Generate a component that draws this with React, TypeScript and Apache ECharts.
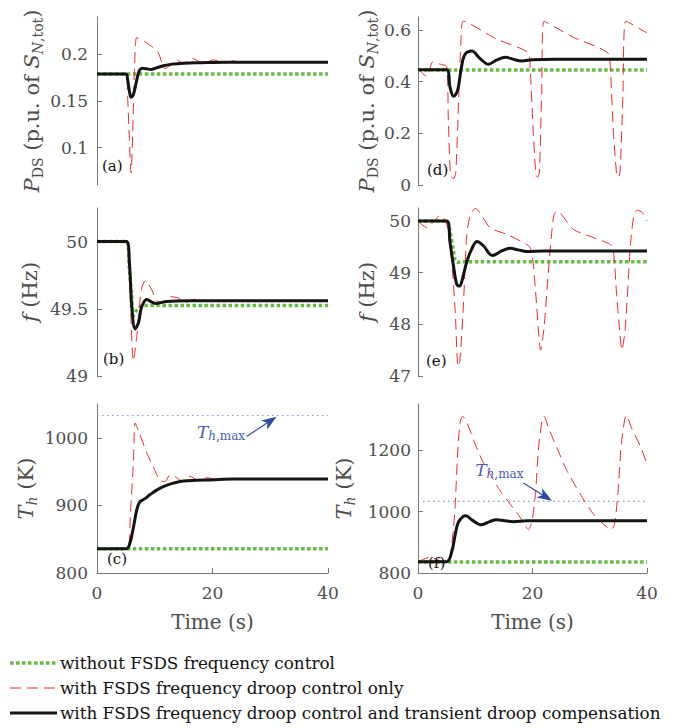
import React, { useEffect, useRef } from 'react';
import * as echarts from 'echarts';

const SERIF = 'DejaVu Serif';
const GRAY = '#4d4d4d';
const AXIS_GRAY = '#777777';
const GREEN = '#66bb44';
const RED = '#f02828';
const BLACK = '#141414';
const TH_BLUE = '#8797d6';
const ANN_BLUE = '#4a5cb0';
const ARROW_BLUE = '#2f4aa0';

const NAME_GREEN = 'without FSDS frequency control';
const NAME_RED = 'with FSDS frequency droop control only';
const NAME_BLACK = 'with FSDS frequency droop control and transient droop compensation';
const LEGEND_NAMES = [NAME_GREEN, NAME_RED, NAME_BLACK];

const timeTicks = [0, 20, 40];
const TH_MAX = 1033;

// ---- (a) P_DS, case 1 ----
const aTicks = [0.1, 0.15, 0.2];
const aGreen = [[0, 0.179], [40, 0.179]];
const aRed = [[0, 0.179], [5.0, 0.179], [5.3, 0.155], [5.6, 0.11], [5.9, 0.073], [6.2, 0.12], [6.5, 0.185], [6.9, 0.218], [8.2, 0.214], [9.3, 0.209], [10.5, 0.203], [11.2, 0.192], [11.8, 0.1848], [12.8, 0.189], [13.8, 0.194], [15.0, 0.1905], [16.6, 0.1955], [18.4, 0.19], [20.2, 0.194], [22.0, 0.1905], [23.8, 0.1932], [25.6, 0.191], [27.3, 0.1925], [29.5, 0.1915], [40, 0.1915]];
const aBlack = [[0, 0.179], [5.0, 0.179], [5.3, 0.173], [5.6, 0.161], [5.9, 0.154], [6.3, 0.157], [6.8, 0.17], [7.3, 0.182], [7.9, 0.185], [8.6, 0.1845], [9.3, 0.1838], [10.3, 0.1855], [11.5, 0.1878], [13, 0.1895], [15, 0.1905], [18, 0.191], [22, 0.1915], [40, 0.1915]];

// ---- (b) f, case 1 ----
const bTicks = [49, 49.5, 50];
const bGreen = [[0, 50], [5.1, 50], [5.6, 49.8], [6.0, 49.6], [6.3, 49.45], [6.9, 49.49], [8.0, 49.525], [40, 49.525]];
const bRed = [[0, 50], [5.2, 50], [5.7, 49.63], [6.3, 49.11], [6.9, 49.3], [7.7, 49.65], [8.4, 49.71], [9.5, 49.64], [10.3, 49.56], [11.5, 49.55], [12.7, 49.59], [14.1, 49.58], [15.3, 49.545], [16.7, 49.57], [19.0, 49.56], [40, 49.56]];
const bBlack = [[0, 50], [5.1, 50], [5.6, 49.85], [6.0, 49.53], [6.6, 49.35], [7.2, 49.4], [7.7, 49.51], [8.6, 49.57], [9.5, 49.55], [10.3, 49.54], [12.1, 49.555], [16, 49.56], [40, 49.56]];

// ---- (c) T_h, case 1 ----
const cTicks = [800, 900, 1000];
const cGreen = [[0, 836], [40, 836]];
const cRed = [[0, 836], [5.2, 836], [5.8, 891], [6.3, 965], [6.6, 1022], [7.2, 1010], [8.6, 978], [9.8, 956], [10.9, 937], [11.8, 935], [12.6, 945], [13.8, 941], [14.7, 936], [16.1, 943], [17.3, 938], [19.0, 941], [20.8, 938], [22.5, 939], [40, 939]];
const cBlack = [[0, 836], [5.1, 836], [5.7, 844], [6.3, 867], [6.9, 894], [7.4, 905], [8.3, 910], [9.2, 916], [10.4, 923], [12.1, 930], [15.0, 936], [20.2, 938], [23.6, 939], [40, 939]];

// ---- (d) P_DS, case 2 ----
const dTicks = [0, 0.2, 0.4, 0.6];
const dGreen = [[0, 0.445], [40, 0.445]];
const dRed = [[0, 0.45], [1.5, 0.42], [2.6, 0.476], [3.8, 0.468], [5.0, 0.458], [5.3, 0.25], [5.7, 0.035], [6.2, 0.025], [6.6, 0.05], [7.1, 0.33], [7.5, 0.55], [7.9, 0.634], [13.7, 0.565], [19.3, 0.509], [19.6, 0.45], [20.1, 0.22], [20.6, 0.04], [20.9, 0.03], [21.2, 0.05], [21.6, 0.35], [22.0, 0.634], [27.1, 0.572], [33.2, 0.51], [33.6, 0.45], [34.1, 0.22], [34.7, 0.04], [35.0, 0.03], [35.3, 0.05], [35.8, 0.35], [36.3, 0.634], [40, 0.588]];
const dBlack = [[0, 0.446], [5.0, 0.446], [5.6, 0.378], [6.2, 0.343], [6.9, 0.365], [7.6, 0.457], [8.2, 0.505], [9.4, 0.518], [10.8, 0.49], [12.3, 0.467], [13.7, 0.483], [15.3, 0.494], [16.7, 0.486], [18.1, 0.48], [20, 0.485], [24, 0.487], [40, 0.487]];

// ---- (e) f, case 2 ----
const eTicks = [47, 48, 49, 50];
const eGreen = [[0, 50], [5.0, 50], [5.6, 49.78], [6.2, 49.42], [6.5, 49.23], [7.0, 49.2], [8, 49.21], [40, 49.21]];
const eRed = [[0, 50], [1.6, 49.87], [2.6, 49.97], [3.8, 50.1], [4.9, 50.0], [5.9, 49.2], [6.5, 48.24], [7.0, 47.18], [7.3, 47.28], [7.9, 48.3], [8.5, 49.71], [9.1, 50.1], [10.0, 50.24], [12.6, 49.87], [15.5, 49.74], [19.3, 49.52], [19.9, 49.39], [20.5, 48.69], [21.1, 47.79], [21.4, 47.5], [22.0, 47.92], [22.9, 49.2], [23.7, 50.1], [24.3, 50.19], [27.1, 49.84], [30.6, 49.68], [33.5, 49.55], [34.1, 49.46], [34.7, 48.56], [35.3, 47.79], [35.6, 47.5], [36.2, 47.92], [37.1, 49.52], [37.7, 50.1], [38.3, 50.21], [39.2, 50.16], [40, 50.0]];
const eBlack = [[0, 50], [5.0, 50], [5.6, 49.58], [6.2, 49.13], [6.75, 48.78], [7.2, 48.74], [7.6, 48.81], [8.5, 49.2], [9.4, 49.46], [10.3, 49.6], [11.4, 49.52], [13.0, 49.33], [14.6, 49.42], [16.1, 49.47], [17.5, 49.44], [19.0, 49.41], [22, 49.42], [40, 49.42]];

// ---- (f) T_h, case 2 ----
const fTicks = [800, 1000, 1200];
const fGreen = [[0, 836], [40, 836]];
const fRed = [[0, 837], [1.0, 845], [2.2, 852], [3.5, 842], [4.6, 837], [5.2, 838], [5.6, 850], [6.2, 946], [6.5, 1022], [7.0, 1217], [7.4, 1294], [7.8, 1310], [8.9, 1273], [9.8, 1228], [11.3, 1163], [13.0, 1109], [14.4, 1066], [16.2, 1022], [17.9, 979], [19.0, 946], [19.3, 941], [19.9, 968], [20.5, 1055], [21.1, 1217], [21.7, 1299], [22.0, 1310], [22.8, 1272], [24.3, 1206], [26.1, 1130], [28.4, 1055], [30.7, 990], [32.5, 957], [33.7, 941], [34.3, 957], [34.9, 1055], [35.5, 1217], [36.1, 1299], [36.4, 1313], [37.3, 1272], [39.0, 1206], [39.9, 1158]];
const fBlack = [[0, 837], [5.0, 837], [5.9, 870], [6.5, 925], [7.0, 963], [7.9, 984], [8.4, 986], [9.4, 973], [11.1, 957], [12.6, 968], [13.7, 973], [15.5, 969], [16.7, 967], [19, 970], [40, 970]];

// annotation anchors (data coords)
const thTextC = [17.3, 1009];
const thArrowC = [[25.9, 1002], [31.1, 1031]];
const thTextF = [10.0, 1136];
const thArrowF = [[18.4, 1093], [23.4, 1035]];

const nameRich = {
  i: { fontFamily: SERIF, fontStyle: 'italic', fontSize: 21, color: GRAY, lineHeight: 26, verticalAlign: 'middle' },
  r: { fontFamily: SERIF, fontSize: 21, color: GRAY, lineHeight: 26, verticalAlign: 'middle' },
  si: { fontFamily: SERIF, fontStyle: 'italic', fontSize: 14, color: GRAY, lineHeight: 14, verticalAlign: 'bottom' },
  sr: { fontFamily: SERIF, fontSize: 14, color: GRAY, lineHeight: 14, verticalAlign: 'bottom' },
};
const P_NAME = '{i|P}{sr|DS}{r| (p.u. of }{i|S}{si|N}{sr|,tot}{r|)}';
const F_NAME = '{i|f}{r| (Hz)}';
const T_NAME = '{i|T}{si|h}{r| (K)}';

type Panel = {
  grid: number[]; yr: number[]; ticks: number[]; data: number[][][];
  name: string; nameGap: number; margin: number; bottom: boolean; tag: string; tagPos: number[]; th: boolean;
};

const PANELS: Panel[] = [
  { grid: [97, 17, 231, 168], yr: [0.06, 0.24], ticks: aTicks, data: [aGreen, aRed, aBlack], name: P_NAME, nameGap: 52, margin: 9, bottom: false, tag: '(a)', tagPos: [102, 166], th: false },
  { grid: [97, 208, 231, 168], yr: [49, 50.25], ticks: bTicks, data: [bGreen, bRed, bBlack], name: F_NAME, nameGap: 54, margin: 9, bottom: false, tag: '(b)', tagPos: [103, 359], th: false },
  { grid: [97, 404, 231, 169], yr: [800, 1050], ticks: cTicks, data: [cGreen, cRed, cBlack], name: T_NAME, nameGap: 58, margin: 9, bottom: true, tag: '(c)', tagPos: [107, 559], th: true },
  { grid: [418, 17, 229, 168], yr: [0, 0.65], ticks: dTicks, data: [dGreen, dRed, dBlack], name: P_NAME, nameGap: 34, margin: 7, bottom: false, tag: '(d)', tagPos: [427, 170], th: false },
  { grid: [418, 208, 229, 168], yr: [47, 50.25], ticks: eTicks, data: [eGreen, eRed, eBlack], name: F_NAME, nameGap: 38, margin: 7, bottom: false, tag: '(e)', tagPos: [426, 361], th: false },
  { grid: [418, 404, 229, 169], yr: [800, 1350], ticks: fTicks, data: [fGreen, fRed, fBlack], name: T_NAME, nameGap: 61, margin: 7, bottom: true, tag: '(f)', tagPos: [428, 563], th: true },
];

const GREEN_STYLE = { color: GREEN, width: 3.5, dash: [3.5, 2.5] };
const RED_STYLE = { color: RED, width: 1, dash: [11, 6] };
const BLACK_STYLE = { color: BLACK, width: 3, dash: null as any };
const STYLES = [GREEN_STYLE, RED_STYLE, BLACK_STYLE];

const plain = (v: number) => String(v);

function buildOption() {
  const grid = PANELS.map((p) => ({ left: p.grid[0], top: p.grid[1], width: p.grid[2], height: p.grid[3], containLabel: false }));
  const xAxis = PANELS.map((p, i) => ({
    type: 'value', gridIndex: i, min: 0, max: 40, show: p.bottom,
    axisLine: { show: true, onZero: false, lineStyle: { color: AXIS_GRAY, width: 1 } },
    axisTick: { show: true, inside: true, length: 5, customValues: timeTicks, lineStyle: { color: AXIS_GRAY } },
    axisLabel: { customValues: timeTicks, formatter: plain, margin: 11, fontFamily: SERIF, fontSize: 17, color: GRAY },
    splitLine: { show: false },
    name: p.bottom ? 'Time (s)' : '', nameLocation: 'middle', nameGap: 37,
    nameTextStyle: { fontFamily: SERIF, fontSize: 20, color: GRAY, lineHeight: 24 },
  }));
  const yAxis = PANELS.map((p, i) => ({
    type: 'value', gridIndex: i, min: p.yr[0], max: p.yr[1],
    axisLine: { show: true, onZero: false, lineStyle: { color: AXIS_GRAY, width: 1 } },
    axisTick: { show: true, inside: true, length: 5, customValues: p.ticks, lineStyle: { color: AXIS_GRAY } },
    axisLabel: { customValues: p.ticks, formatter: plain, margin: p.margin, fontFamily: SERIF, fontSize: 17, color: GRAY },
    splitLine: { show: false },
    name: p.name, nameLocation: 'middle', nameGap: p.nameGap,
    nameTextStyle: { fontFamily: SERIF, fontSize: 21, color: GRAY, rich: nameRich },
  }));
  const series: any[] = [];
  PANELS.forEach((p, i) => {
    if (p.th) {
      series.push({
        name: 'Th,max', type: 'line', xAxisIndex: i, yAxisIndex: i, data: [[0, TH_MAX], [40, TH_MAX]],
        symbol: 'none', silent: true, lineStyle: { color: TH_BLUE, width: 1.2, type: [1.5, 3.5] }, z: 1,
      });
    }
    const smooths = [0.3, 0.25, 0.35];
    [0, 1, 2].forEach((k) => {
      const s = STYLES[k];
      series.push({
        name: LEGEND_NAMES[k], type: 'line', xAxisIndex: i, yAxisIndex: i, data: p.data[k], symbol: 'none',
        smooth: smooths[k],
        lineStyle: { color: s.color, width: s.width, type: s.dash || 'solid', cap: 'butt' },
        itemStyle: { color: s.color }, z: 2 + k,
      });
    });
  });
  return { animation: false, backgroundColor: '#ffffff', grid, xAxis, yAxis, series };
}

function arrowEls(p0: number[], p1: number[], color: string) {
  const dx = p1[0] - p0[0];
  const dy = p1[1] - p0[1];
  const len = Math.hypot(dx, dy) || 1;
  const ux = dx / len, uy = dy / len;
  const px = -uy, py = ux;
  const L = 15, W = 5.5, N = 4;
  const base = [p1[0] - ux * L, p1[1] - uy * L];
  const notch = [p1[0] - ux * (L - N), p1[1] - uy * (L - N)];
  return [
    { type: 'line', z: 100, shape: { x1: p0[0], y1: p0[1], x2: notch[0], y2: notch[1] }, style: { stroke: color, lineWidth: 1.2 } },
    { type: 'polygon', z: 100, shape: { points: [p1, [base[0] + px * W, base[1] + py * W], notch, [base[0] - px * W, base[1] - py * W]] }, style: { fill: color } },
  ];
}

function thText(pos: number[]) {
  return {
    type: 'text', z: 100, x: pos[0], y: pos[1],
    style: {
      text: '{T|T}{h|h}{m|,max}', align: 'left', verticalAlign: 'middle',
      rich: {
        T: { fontFamily: SERIF, fontStyle: 'italic', fontSize: 17, fill: ANN_BLUE, lineHeight: 20, verticalAlign: 'middle' },
        h: { fontFamily: SERIF, fontStyle: 'italic', fontSize: 12, fill: ANN_BLUE, lineHeight: 12, verticalAlign: 'bottom' },
        m: { fontFamily: SERIF, fontSize: 12, fill: ANN_BLUE, lineHeight: 12, verticalAlign: 'bottom' },
      },
    },
  };
}

function buildGraphics(chart: any) {
  const els: any[] = [];
  PANELS.forEach((p) => {
    els.push({
      type: 'text', z: 100, x: p.tagPos[0], y: p.tagPos[1],
      style: { text: p.tag, fontFamily: SERIF, fontSize: 15, fill: '#111111', align: 'left', verticalAlign: 'middle' },
    });
  });
  const conv = (g: number, v: number[]) => chart.convertToPixel({ gridIndex: g }, v) as number[];
  els.push(thText(conv(2, thTextC)));
  els.push(...arrowEls(conv(2, thArrowC[0]), conv(2, thArrowC[1]), ARROW_BLUE));
  els.push(thText(conv(5, thTextF)));
  els.push(...arrowEls(conv(5, thArrowF[0]), conv(5, thArrowF[1]), ARROW_BLUE));
  LEGEND_NAMES.forEach((nm, k) => {
    const y = 663 + k * 25;
    const s = STYLES[k];
    els.push({
      type: 'line', z: 100, shape: { x1: 10, y1: y, x2: 57, y2: y },
      style: { stroke: s.color, lineWidth: s.width, lineDash: s.dash || undefined, lineCap: 'butt' },
    });
    els.push({
      type: 'text', z: 100, x: 60, y,
      style: { text: nm, fontFamily: SERIF, fontSize: 16.8, fill: '#111111', align: 'left', verticalAlign: 'middle' },
    });
  });
  return els;
}

export default function App() {
  const ref = useRef<HTMLDivElement>(null);
  useEffect(() => {
    document.body.style.margin = '0';
    const chart = echarts.init(ref.current as HTMLDivElement, null, { renderer: 'svg' });
    chart.setOption(buildOption() as any);
    chart.setOption({ graphic: buildGraphics(chart) } as any);
    return () => chart.dispose();
  }, []);
  return <div ref={ref} style={{ position: 'absolute', left: 0, top: 0, width: 680, height: 728 }} />;
}
